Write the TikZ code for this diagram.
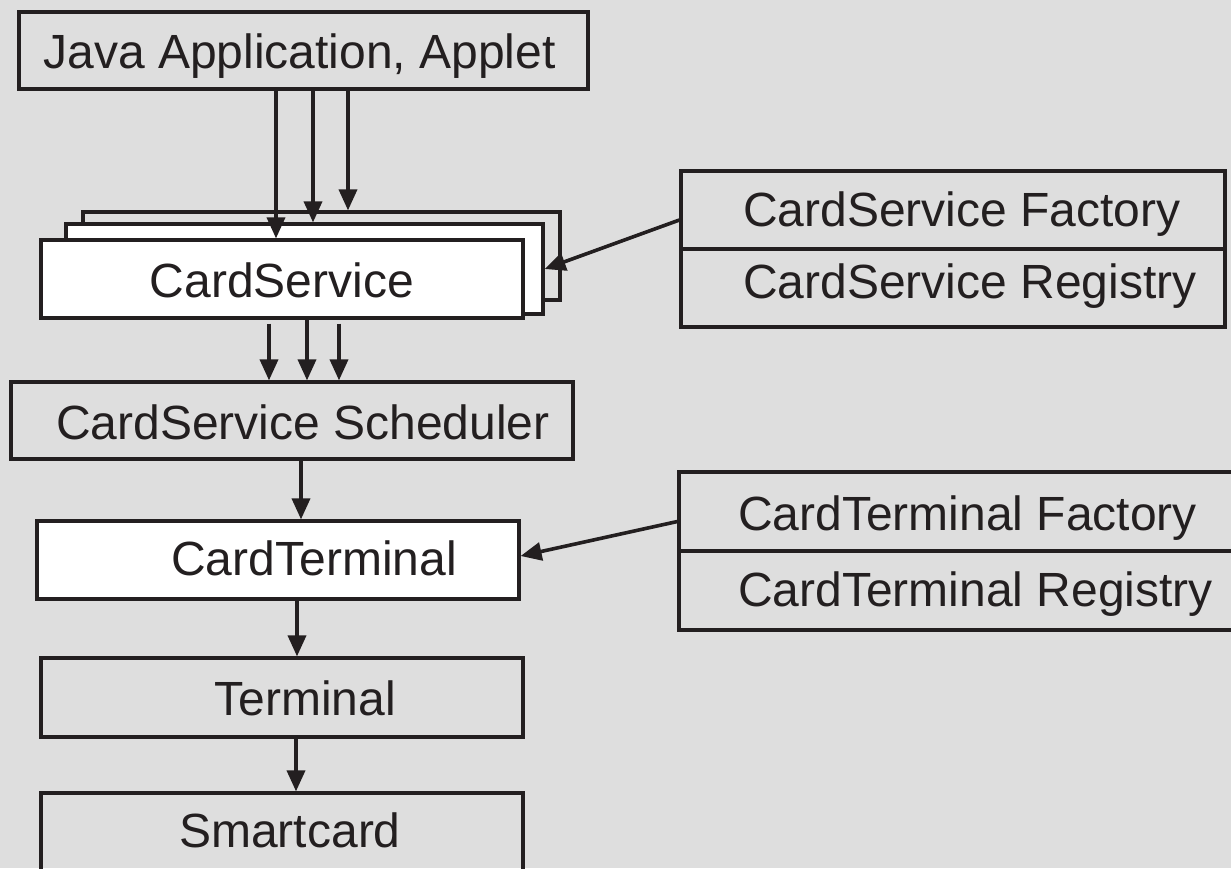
\documentclass[tikz,border=0pt]{standalone}
\usepackage{fontspec}
\setmainfont{Liberation Sans}
\usetikzlibrary{arrows.meta}
\definecolor{bg}{HTML}{DEDEDE}
\definecolor{ink}{HTML}{231F20}
\tikzset{
  box/.style={draw=ink, line width=3.2pt, inner sep=0pt, anchor=center},
  card/.style={box, fill=white},
  txt/.style={font=\fontsize{48}{56}\selectfont, text=ink, inner sep=0pt},
  arr/.style={draw=ink, line width=3.6pt, -{Triangle[length=21pt,width=18pt]}},
}
\begin{document}
\begin{tikzpicture}[x=1pt,y=-1pt]
\fill[bg] (0,0) rectangle (1231,868);
\useasboundingbox (0,0) rectangle (1231,868);
\begin{scope}
\clip (0,0) rectangle (1231,868);
% boxes
\node[box, minimum width=569pt, minimum height=77pt] (java) at (303.5,50.5) {};
\node[box, minimum width=477pt, minimum height=88pt] (back) at (321.5,256) {};
\node[card, minimum width=477pt, minimum height=90pt] (mid) at (304.5,269) {};
\node[card, minimum width=482pt, minimum height=78pt] (front) at (282,279) {};
\node[box, minimum width=562pt, minimum height=77pt] (sched) at (292,420.5) {};
\node[card, minimum width=482pt, minimum height=78pt] (ct) at (278,560) {};
\node[box, minimum width=482pt, minimum height=79pt] (term) at (282,697.5) {};
\node[box, minimum width=482pt, minimum height=78pt] (smart) at (282,832) {};
\node[box, minimum width=544pt, minimum height=78pt] (csfac) at (953,210) {};
\node[box, minimum width=544pt, minimum height=78pt] (csreg) at (953,288) {};
\node[box, minimum width=561pt, minimum height=79pt] (ctfac) at (959.5,511.5) {};
\node[box, minimum width=561pt, minimum height=79pt] (ctreg) at (959.5,590.5) {};
% texts
\node[txt, anchor=base] (tjava) at (299.5,68) {Java Application, Applet};
\node[txt, anchor=base] (tfront) at (282,297) {CardService};
\node[txt, anchor=base] (tsched) at (303,439) {CardService Scheduler};
\node[txt, anchor=base] (tct) at (314,575) {CardTerminal};
\node[txt, anchor=base] (tterm) at (305,715) {Terminal};
\node[txt, anchor=base] (tsmart) at (290,847) {Smartcard};
\node[txt, anchor=base west] (tcsfac) at (743,226) {CardService Factory};
\node[txt, anchor=base west] (tcsreg) at (743,298) {CardService Registry};
\node[txt, anchor=base west] (tctfac) at (738,530) {CardTerminal Factory};
\node[txt, anchor=base west] (tctreg) at (738,606) {CardTerminal Registry};
% x positions of parallel connectors
\coordinate (xa) at (276,0);
\coordinate (xb) at (313,0);
\coordinate (xc) at (348,0);
\coordinate (xd) at (269,0);
\coordinate (xe) at (307,0);
\coordinate (xf) at (339,0);
\coordinate (xg) at (301,0);
\coordinate (xh) at (297,0);
\coordinate (xi) at (296,0);
% connectors
\draw[arr] (java.south -| xa) -- (front.north -| xa);
\draw[arr] (java.south -| xb) -- (mid.north -| xb);
\draw[arr] (java.south -| xc) -- (back.north -| xc);
\draw[arr] ([yshift=-4pt]front.south -| xd) -- (sched.north -| xd);
\draw[arr] (front.south -| xe) -- (sched.north -| xe);
\draw[arr] ([yshift=-4pt]front.south -| xf) -- (sched.north -| xf);
\draw[arr] (sched.south -| xg) -- (ct.north -| xg);
\draw[arr] (ct.south -| xh) -- (term.north -| xh);
\draw[arr] (term.south -| xi) -- (smart.north -| xi);
\draw[arr] ([yshift=-10pt]csfac.west) -- (mid.east);
\draw[arr] ([yshift=-10pt]ctfac.west) -- ([yshift=4pt]ct.east);
\end{scope}
\end{tikzpicture}
\end{document}
